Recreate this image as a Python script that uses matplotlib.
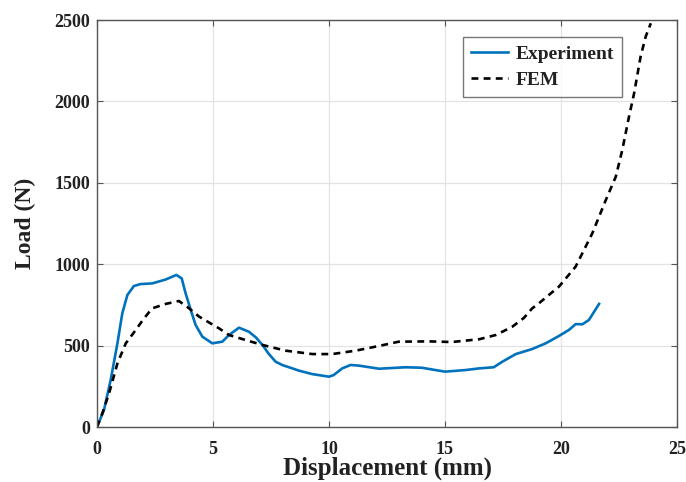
import numpy as np
import matplotlib
matplotlib.use("Agg")
import matplotlib.pyplot as plt

# Measured load-displacement response
exp_disp = [0.0, 0.30, 0.59, 0.88, 1.09, 1.31, 1.59, 1.88, 2.38, 2.96, 3.42, 3.65,
            3.82, 4.04, 4.25, 4.54, 4.97, 5.4, 5.69, 6.12, 6.55, 6.85, 7.13, 7.4,
            7.7, 8.0, 8.42, 8.71, 9.28, 10.0, 10.2, 10.57, 10.93, 11.29, 12.16,
            13.3, 14.0, 15.0, 15.89, 16.47, 17.1, 17.47, 18.05, 18.76, 19.34,
            19.91, 20.34, 20.63, 20.92, 21.2, 21.64]
exp_load = [0, 104, 289, 514, 698, 811, 866, 878, 882, 906, 934, 913,
            821, 719, 627, 555, 514, 524, 565, 610, 585, 550, 504, 450,
            401, 380, 360, 346, 325, 309, 319, 360, 381, 377, 358,
            367, 364, 340, 350, 360, 367, 401, 448, 479, 514,
            559, 596, 632, 631, 657, 756]

# Finite element prediction
fem_disp = [0.0, 0.23, 0.52, 0.88, 1.24, 1.67, 2.03, 2.38, 2.96, 3.53, 3.97, 4.4,
            5.26, 5.69, 6.41, 7.13, 8.13, 9.28, 10.14, 11.15, 12.16, 13.0, 14.3,
            15.3, 16.47, 17.19, 17.9, 18.4, 18.76, 19.05, 19.34, 19.91, 20.63,
            21.35, 21.93, 22.36, 22.64, 22.93, 23.15, 23.43, 23.65, 23.87]
fem_load = [0, 84, 207, 391, 514, 596, 668, 729, 756, 774, 729, 678,
            606, 565, 534, 504, 469, 448, 448, 469, 498, 524, 526,
            522, 539, 565, 616, 670, 729, 760, 795, 862, 985,
            1190, 1394, 1537, 1701, 1906, 2049, 2275, 2398, 2480]

x_ticks = [0, 5, 10, 15, 20, 25]
y_ticks = [0, 500, 1000, 1500, 2000, 2500]

plt.rcParams['font.family'] = ['Liberation Serif', 'DejaVu Serif']
plt.rcParams['font.weight'] = 'bold'

fig = plt.figure(figsize=(6.86, 4.82), dpi=100)
ax = fig.add_axes([0.1414, 0.1141, 0.8455, 0.8444])

ax.plot(exp_disp, exp_load, color='#0072BD', lw=1.9, label='Experiment')
ax.plot(fem_disp, fem_load, color='black', lw=1.9, ls=(0, (2.6, 2.0)), label='FEM')

ax.set_xlim(0, 25)
ax.set_ylim(0, 2500)
ax.set_xticks(x_ticks)
ax.set_yticks(y_ticks)
ax.grid(True, color='#e3e3e3', lw=0.9)
ax.set_axisbelow(True)
ax.tick_params(direction='in', length=4, width=0.8, colors='#555555',
               labelcolor='#222222', labelsize=13, top=True, right=True)
ax.tick_params(axis='x', pad=10)
ax.tick_params(axis='y', pad=5)
for lab in ax.get_xticklabels() + ax.get_yticklabels():
    lab.set_fontweight('bold')
for s in ax.spines.values():
    s.set_color('#555555')
    s.set_linewidth(1.0)

ax.set_xlabel('Displacement (mm)', fontsize=18, fontweight='bold', color='#222222', labelpad=-1)
ax.set_ylabel('Load (N)', fontsize=17, fontweight='bold', color='#222222', labelpad=13)

leg = ax.legend(loc='upper right', bbox_to_anchor=(0.9047, 0.9575), borderaxespad=0,
                frameon=True, fancybox=False, handlelength=1.9, handletextpad=0.4,
                borderpad=0.4, labelspacing=0.45,
                prop={'weight': 'bold', 'size': 14})
leg.get_frame().set_edgecolor('#555555')
leg.get_frame().set_linewidth(1.0)
for t in leg.get_texts():
    t.set_color('#222222')

fig.savefig('out.png', dpi=100)
